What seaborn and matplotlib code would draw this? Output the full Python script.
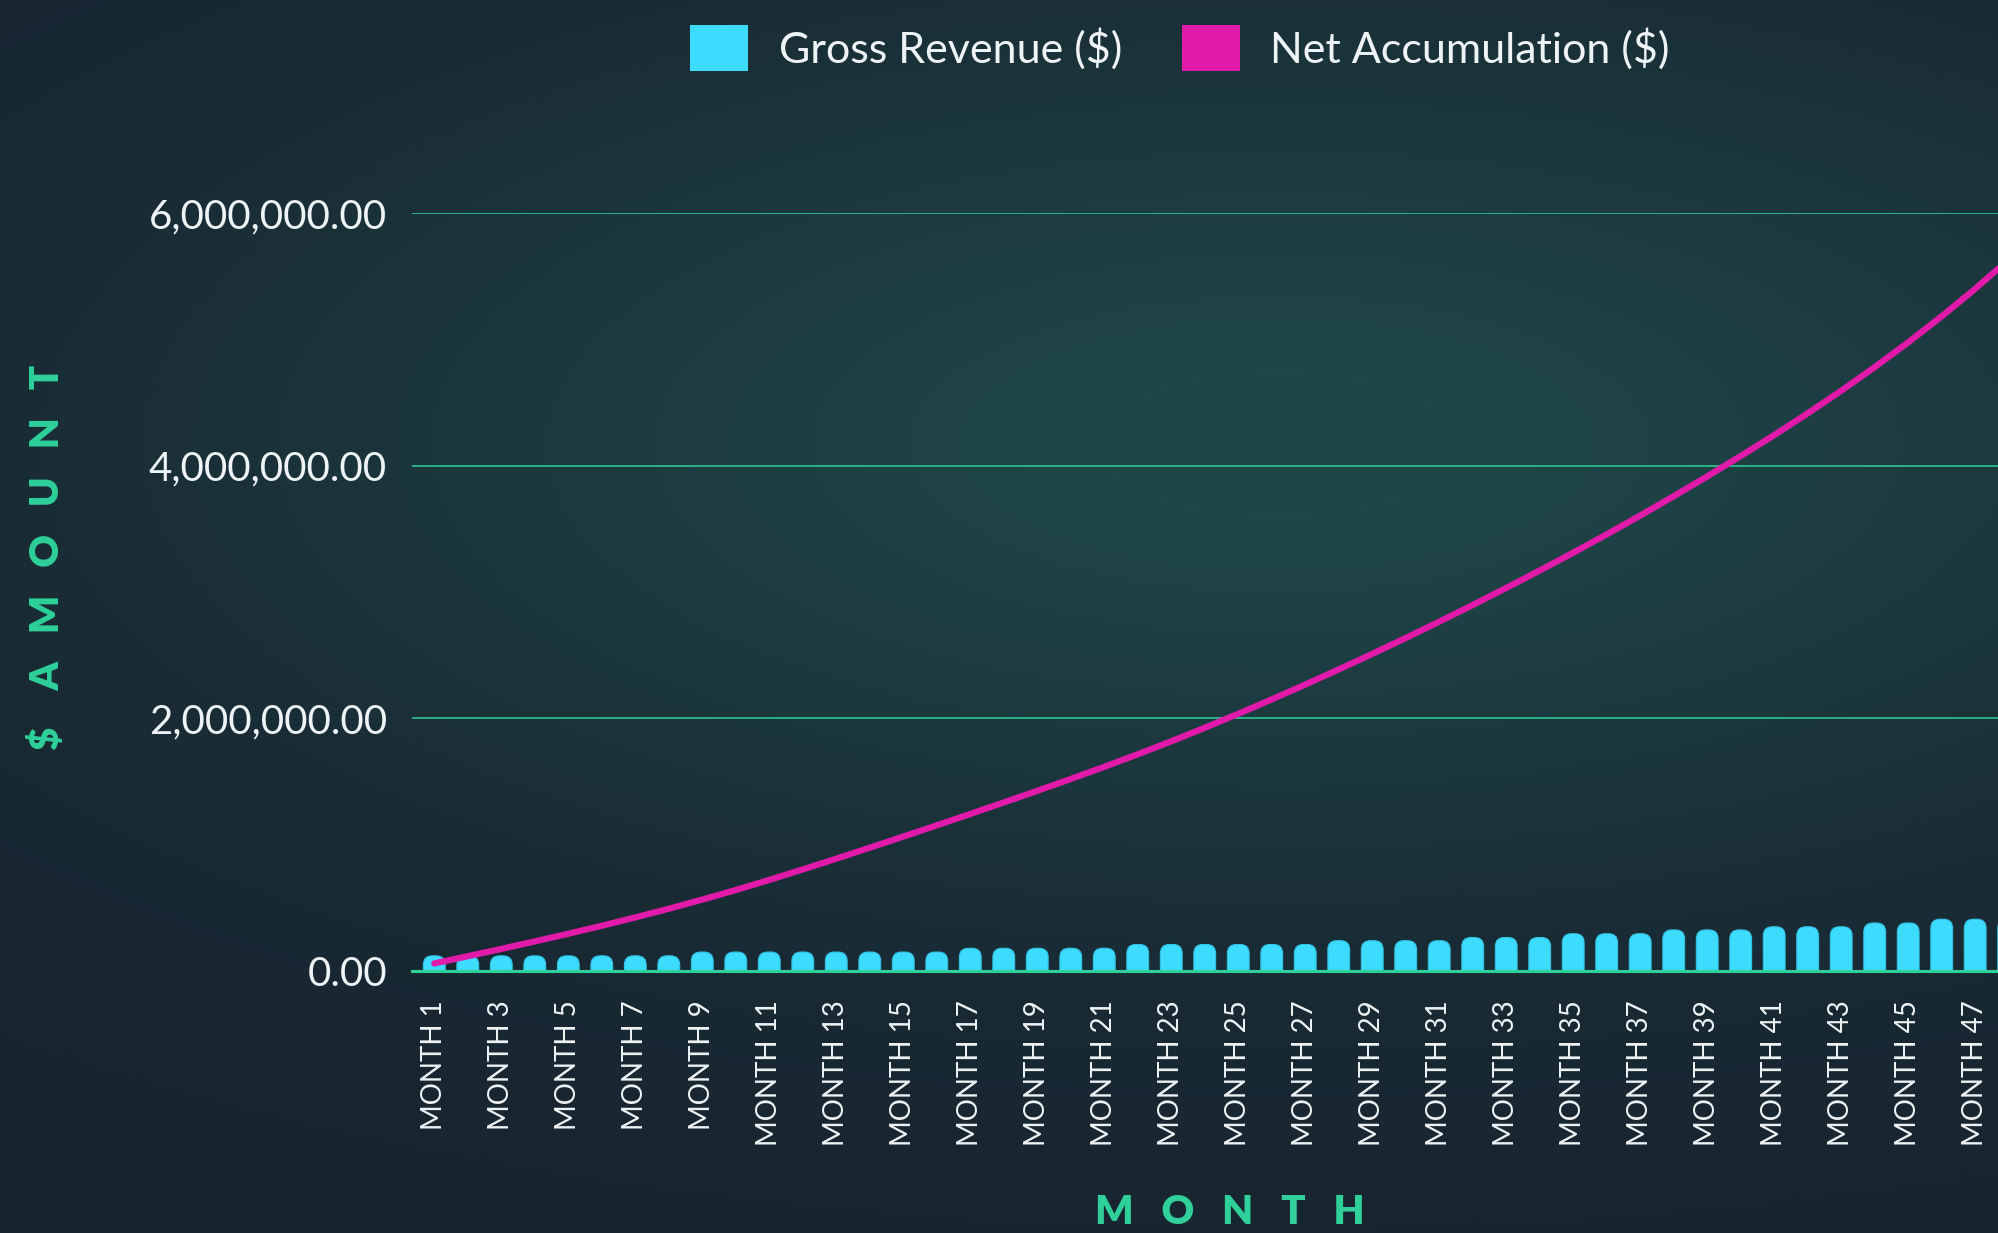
import numpy as np
import pandas as pd
import matplotlib
matplotlib.use("Agg")
import matplotlib.pyplot as plt
import seaborn as sns
from matplotlib.patches import FancyBboxPatch, Patch
from matplotlib.ticker import FuncFormatter

# ---- data -------------------------------------------------------------
months = [f"MONTH {i}" for i in range(1, 49)]

gross_revenue = [
    120000, 120000, 120000, 120000, 120000, 120000, 120000, 120000,
    150000, 150000, 150000, 150000, 150000, 150000, 150000, 150000,
    180000, 180000, 180000, 180000, 180000,
    210000, 210000, 210000, 210000, 210000, 210000,
    240000, 240000, 240000, 240000,
    265000, 265000, 265000,
    295000, 295000, 295000,
    325000, 325000, 325000,
    350000, 350000, 350000,
    380000, 380000,
    410000, 410000, 410000,
]

net_accumulation = [
    60000, 117000, 175000, 234000, 295000, 358000, 424000, 493000,
    565000, 641000, 721000, 804000, 889000, 976000, 1064000, 1153000,
    1243000, 1334000, 1426000, 1520000, 1616000, 1715000, 1818000, 1925000,
    2036000, 2150000, 2267000, 2387000, 2510000, 2636000, 2765000, 2897000,
    3032000, 3170000, 3311000, 3456000, 3605000, 3758000, 3915000, 4076000,
    4242000, 4414000, 4593000, 4780000, 4976000, 5182000, 5400000, 5632000,
]

y_ticks = [0, 2000000, 4000000, 6000000]

# ---- style ------------------------------------------------------------
CYAN = "#3ddcff"
MAGENTA = "#e21aa9"
GREEN = "#2fd09a"
TEXT = "#eef3f5"

sns.set_theme(style="white")
plt.rcParams["font.family"] = ["Lato", "DejaVu Sans"]

W, H = 1998, 1233
fig = plt.figure(figsize=(W / 100, H / 100), dpi=100)

# soft teal glow on a dark navy backdrop
yy, xx = np.mgrid[0:1:400j, 0:1:650j]
glow = np.exp(-((xx - 0.64) / 0.52) ** 2 - ((yy - 0.36) / 0.34) ** 2)
dark = np.array([24, 37, 49]) / 255
teal = np.array([31, 70, 72]) / 255
img = dark + glow[..., None] * (teal - dark)
bg = fig.add_axes([0, 0, 1, 1], zorder=-10)
bg.imshow(img, aspect="auto", extent=[0, 1, 0, 1], origin="upper")
bg.axis("off")

# plot area (runs slightly past the right edge of the canvas)
left_px, right_px, top_px, bottom_px = 412, 2031, 213, 971
ax = fig.add_axes([left_px / W, 1 - bottom_px / H,
                   (right_px - left_px) / W, (bottom_px - top_px) / H])
ax.patch.set_alpha(0)

df = pd.DataFrame({"month": months, "gross": gross_revenue, "net": net_accumulation})

sns.barplot(data=df, x="month", y="gross", color=CYAN, saturation=1,
            width=0.65, ax=ax, zorder=2)

# give the bars rounded tops
ax.set_xlim(-0.666, 47.666)
ax.set_ylim(0, 6000000)
px_x = (right_px - left_px) / (47.666 + 0.666)   # pixels per category
px_y = (bottom_px - top_px) / 6000000             # pixels per dollar
radius_px = 9
rx = radius_px / px_x
ry = radius_px / px_y
for p in list(ax.patches):
    x0, w, h = p.get_x(), p.get_width(), p.get_height()
    p.remove()
    ax.add_patch(FancyBboxPatch((x0, -ry), w, h + ry,
                                boxstyle=f"round,pad=0,rounding_size={rx}",
                                mutation_aspect=ry / rx,
                                facecolor=CYAN, edgecolor="#33c3e4",
                                linewidth=0.8, zorder=2))

sns.lineplot(data=df, x="month", y="net", color=MAGENTA, linewidth=4.5,
             ax=ax, zorder=4, sort=False)

ax.set_xlim(-0.666, 47.666)
ax.set_ylim(0, 6000000)
ax.set_xlabel("")
ax.set_ylabel("")

ax.set_xticks(range(0, 48, 2))
ax.set_xticklabels(months[::2], rotation=90)
ax.set_yticks(y_ticks)
ax.yaxis.set_major_formatter(FuncFormatter(lambda v, _: f"{v:,.2f}"))

ax.tick_params(axis="y", length=0, labelsize=29, pad=18, labelcolor=TEXT)
ax.tick_params(axis="x", length=0, labelsize=20, pad=21, labelcolor=TEXT)

ax.grid(axis="y", color=GREEN, linewidth=1.1)
ax.grid(axis="x", visible=False)
ax.set_axisbelow(True)
for side in ("top", "right", "left"):
    ax.spines[side].set_visible(False)
ax.spines["bottom"].set_color(GREEN)
ax.spines["bottom"].set_linewidth(2.2)
ax.spines["bottom"].set_zorder(5)

# axis titles
fig.text(48 / W, 1 - 557 / H, "$    A   M   O   U   N   T", rotation=90,
         ha="center", va="center", fontsize=29, fontweight="heavy", color=GREEN)
fig.text(1230 / W, 1 - 1213 / H, "M   O   N   T   H",
         ha="center", va="center", fontsize=29, fontweight="heavy", color=GREEN)

# legend
handles = [Patch(facecolor=CYAN, edgecolor="none", label="Gross Revenue ($)"),
           Patch(facecolor=MAGENTA, edgecolor="none", label="Net Accumulation ($)")]
fig.legend(handles=handles, loc="center", bbox_to_anchor=(1180 / W, 1 - 48 / H),
           ncol=2, frameon=False, fontsize=31, handlelength=1.35,
           handleheight=1.3, handletextpad=0.7, columnspacing=1.4,
           labelcolor=TEXT)

fig.savefig("out.png", dpi=100)
